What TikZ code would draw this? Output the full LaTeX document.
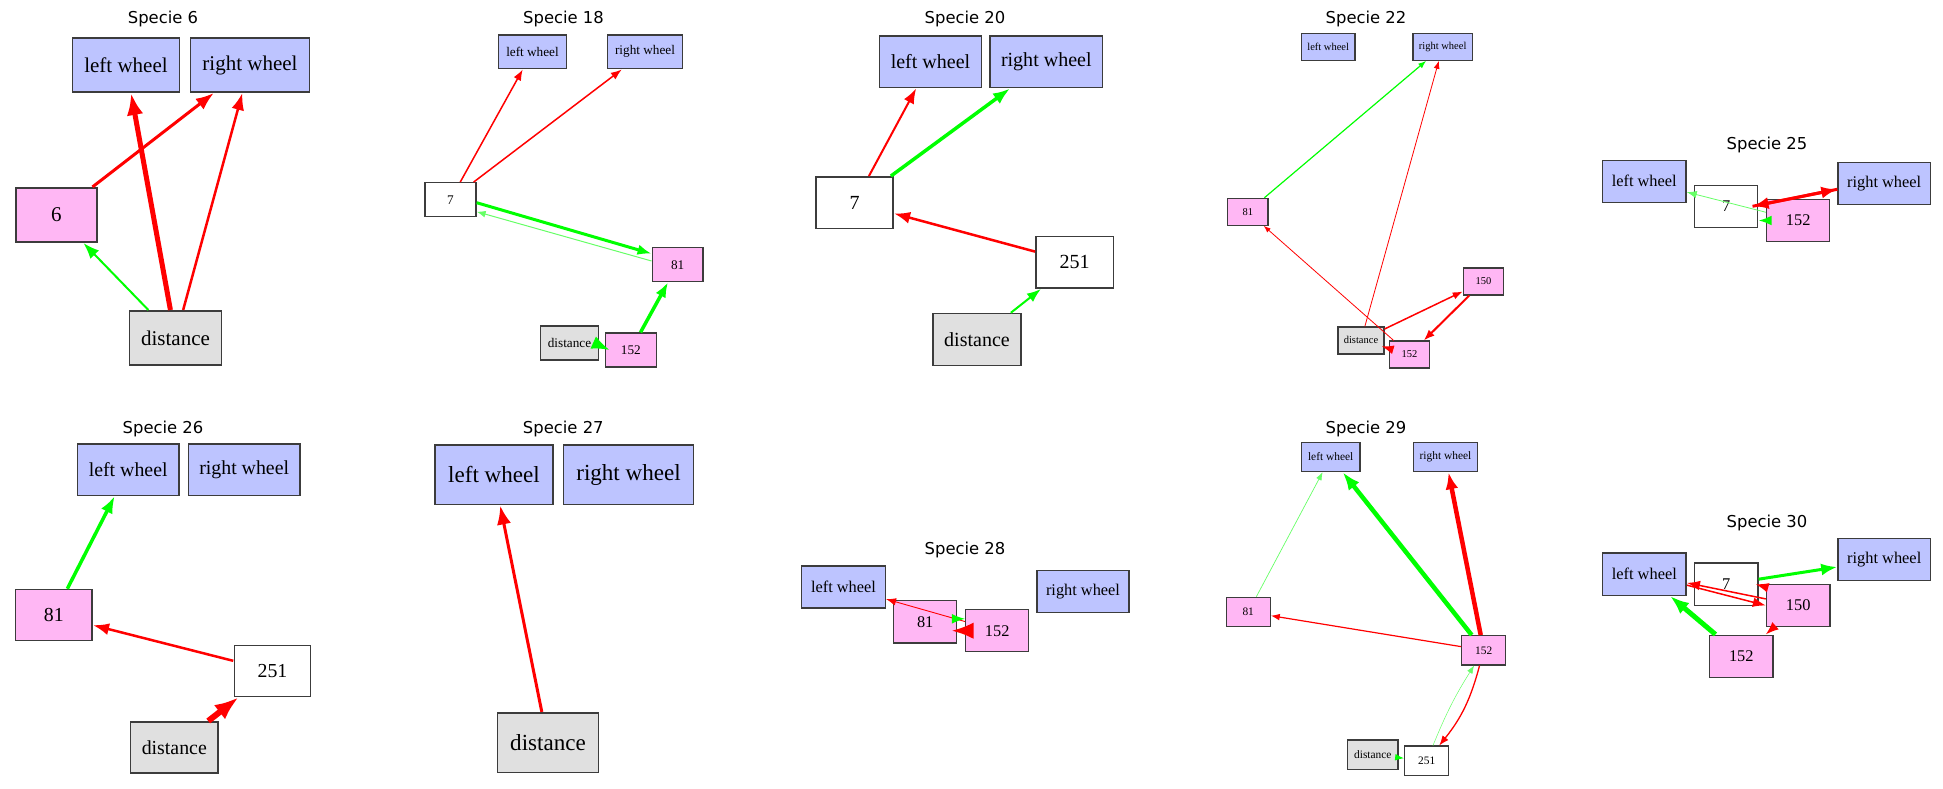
\documentclass[tikz,border=0pt]{standalone}
\usepackage{fontspec}
\setmainfont{Liberation Serif}
\newfontfamily\titlefont{DejaVu Sans}
\usetikzlibrary{arrows.meta}

\definecolor{wheelblue}{RGB}{189,196,255}
\definecolor{hidpink}{RGB}{255,183,244}
\definecolor{sensgray}{RGB}{224,224,224}
\definecolor{boxline}{RGB}{60,60,60}

\tikzstyle{box}=[draw=boxline, line width=1.4pt, rectangle, minimum height=36pt, inner sep=0pt, font=\fontsize{14}{16}\selectfont]
\tikzstyle{lwheel}=[box, fill=wheelblue, minimum width=71.5pt]
\tikzstyle{rwheel}=[box, fill=wheelblue, minimum width=79pt]
\tikzstyle{sensor}=[box, fill=sensgray, minimum width=61.5pt]
\tikzstyle{hidden}=[box, fill=hidpink, minimum width=54pt]
\tikzstyle{plain}=[box, fill=white, minimum width=54pt]
\tikzstyle{title}=[font=\titlefont\fontsize{16.4}{18}\selectfont, anchor=base]
\tikzstyle{exc}=[green]
\tikzstyle{pale}=[green!60]
\tikzstyle{inh}=[red]
\tikzset{ar/.style 2 args={line width=#1pt, -{Latex[length=#2pt]}}}

\begin{document}
\begin{tikzpicture}[x=1pt, y=-1pt]
  \useasboundingbox (0,0) rectangle (1943,789);

  \foreach \x/\y/\n in {163/24/6, 563.5/24/18, 965/24/20, 1366/24/22, 1767/149.3/25,
      163/433.3/26, 563.3/433.3/27, 965/554/28, 1366/433.3/29, 1767/527.3/30}
    \node[title] (t\n) at (\x,\y) {Specie \n};

  % Specie 6
  \begin{scope}[every node/.append style={scale=1.5}]
    \node[lwheel] (lw6) at (126,65) {left wheel};
    \node[rwheel] (rw6) at (250,65) {right wheel};
    \node[hidden] (n6x6) at (56.3,215) {6};
    \node[sensor] (d6) at (175.5,338) {distance};
  \end{scope}
  \draw[inh, ar={5}{22}] (d6) -- (lw6);
  \draw[inh, ar={2.5}{17}] (d6) -- (rw6);
  \draw[inh, ar={3}{18}] (n6x6) -- (rw6);
  \draw[exc, ar={2}{16}] (d6) -- (n6x6);

  % Specie 18
  \begin{scope}[every node/.append style={scale=0.944}]
    \node[lwheel] (lw18) at (532.5,51.8) {left wheel};
    \node[rwheel] (rw18) at (645,51.8) {right wheel};
    \node[plain] (n18x7) at (450.5,199.7) {7};
    \node[hidden] (n18x81) at (677.7,264.7) {81};
    \node[sensor] (d18) at (569.5,343) {distance};
    \node[hidden] (n18x152) at (630.8,350) {152};
  \end{scope}
  \draw[inh, ar={1.5}{11}] (n18x7) -- (lw18);
  \draw[inh, ar={1.5}{11}] (n18x7) -- (rw18);
  \draw[exc, ar={3}{14}] ([yshift=-3pt]n18x7.east) -- ([yshift=11pt]n18x81.west);
  \draw[pale, ar={1}{9}] ([yshift=3.7pt]n18x81.west) -- ([yshift=-12pt]n18x7.east);
  \draw[exc, ar={3.5}{15}] (n18x152) -- (n18x81);
  \draw[exc, ar={2.5}{18}] ([xshift=-5pt]d18.east) -- ([xshift=5pt]n18x152.west);

  % Specie 20
  \begin{scope}[every node/.append style={scale=1.43}]
    \node[lwheel] (lw20) at (930.5,61.8) {left wheel};
    \node[rwheel] (rw20) at (1046.3,61.8) {right wheel};
    \node[plain] (n20x7) at (854.5,202.8) {7};
    \node[plain] (n20x251) at (1074.7,262.3) {251};
    \node[sensor] (d20) at (977,339.5) {distance};
  \end{scope}
  \draw[inh, ar={2}{15}] (n20x7) -- (lw20);
  \draw[exc, ar={3.5}{17}] (n20x7) -- (rw20);
  \draw[inh, ar={2.5}{16}] (n20x251) -- (n20x7);
  \draw[exc, ar={2}{14}] (d20) -- (n20x251);

  % Specie 22
  \begin{scope}[every node/.append style={scale=0.75}]
    \node[lwheel] (lw22) at (1328.2,46.8) {left wheel};
    \node[rwheel] (rw22) at (1442.7,46.8) {right wheel};
    \node[hidden] (n22x81) at (1247.8,211.8) {81};
    \node[hidden] (n22x150) at (1483.5,281.5) {150};
    \node[sensor] (d22) at (1361,340.3) {distance};
    \node[hidden] (n22x152) at (1409.5,354.5) {152};
  \end{scope}
  \draw[exc, ar={1.2}{8}] (n22x81) -- (rw22);
  \draw[inh, ar={0.8}{8}] (d22) -- (rw22);
  \draw[inh, ar={0.8}{7}] (n22x152) -- (n22x81);
  \draw[inh, ar={1.5}{10}] (d22) -- (n22x150);
  \draw[inh, ar={2}{11}] (n22x150) -- (n22x152);
  \draw[inh, ar={1.5}{12}, shorten >=-3pt] (n22x152) -- (d22);

  % Specie 25
  \begin{scope}[every node/.append style={scale=1.167}]
    \node[lwheel] (lw25) at (1644.2,181.3) {left wheel};
    \node[plain] (n25x7) at (1726.2,206.3) {7};
    \node[hidden] (n25x152) at (1798.2,220.5) {152};
    \node[rwheel] (rw25) at (1884.2,183.3) {right wheel};
  \end{scope}
  \draw[pale, ar={0.8}{10}] (n25x152) -- (lw25);
  \draw[exc, ar={2}{13}] (n25x152.west) -- (n25x152.west -| n25x7.east);
  \draw[inh, ar={3}{16}] ([xshift=-6pt]n25x7.east) -- ([yshift=-6pt]rw25.west);
  \draw[inh, ar={3}{16}] ([yshift=-6pt]rw25.west) -- ([xshift=-6pt]n25x7.east);

  % Specie 26
  \begin{scope}[every node/.append style={scale=1.417}]
    \node[lwheel] (lw26) at (128.2,469.7) {left wheel};
    \node[rwheel] (rw26) at (244.2,469.7) {right wheel};
    \node[hidden] (n26x81) at (53.8,615.2) {81};
    \node[plain] (n26x251) at (272.5,670.8) {251};
    \node[sensor] (d26) at (174.3,747.5) {distance};
  \end{scope}
  \draw[exc, ar={3.5}{17}] (n26x81) -- (lw26);
  \draw[inh, ar={2.5}{16}] (n26x251) -- (n26x81);
  \draw[inh, ar={6}{24}] (d26) -- (n26x251);

  % Specie 27
  \begin{scope}[every node/.append style={scale=1.647}]
    \node[lwheel] (lw27) at (494,474.7) {left wheel};
    \node[rwheel] (rw27) at (628.5,474.7) {right wheel};
    \node[sensor] (d27) at (548,742.7) {distance};
  \end{scope}
  \draw[inh, ar={3}{19}] (d27) -- (lw27);

  % Specie 28
  \begin{scope}[every node/.append style={scale=1.167}]
    \node[lwheel] (lw28) at (843.5,587) {left wheel};
    \node[hidden] (n28x81) at (925.2,621.8) {81};
    \node[hidden] (n28x152) at (997.2,630.7) {152};
    \node[rwheel] (rw28) at (1083,591.7) {right wheel};
  \end{scope}
  \draw[inh, ar={0.9}{10}] (n28x152) -- (lw28);
  \draw[exc, ar={1.2}{13}] ([yshift=3pt]n28x81.east) -- ([yshift=3pt]n28x81.east -| n28x152.west);
  \draw[inh, ar={3}{22}] (n28x152.west) -- ([xshift=-6pt]n28x152.west -| n28x81.east);

  % Specie 29
  \begin{scope}[every node/.append style={scale=0.815}]
    \node[lwheel] (lw29) at (1330.7,457) {left wheel};
    \node[rwheel] (rw29) at (1445.5,457) {right wheel};
    \node[hidden] (n29x81) at (1248.2,612) {81};
    \node[hidden] (n29x152) at (1483.7,650.3) {152};
    \node[sensor] (d29) at (1372.8,754.7) {distance};
    \node[plain] (n29x251) at (1426.7,760.8) {251};
  \end{scope}
  \draw[pale, ar={0.7}{8}] (n29x81) -- (lw29);
  \draw[exc, ar={4.5}{18}] (n29x152) -- (lw29);
  \draw[inh, ar={4.5}{17}] (n29x152) -- (rw29);
  \draw[inh, ar={1.2}{9}] (n29x152) -- (n29x81);
  \draw[pale, ar={0.5}{8}] (n29x251) to[bend left=5] (n29x152);
  \draw[inh, ar={1.3}{10}] (n29x152) to[bend left=12] (n29x251);
  \draw[exc, ar={1.2}{9}] (d29) -- (n29x251);

  % Specie 30
  \begin{scope}[every node/.append style={scale=1.17}]
    \node[lwheel] (lw30) at (1644.3,574.2) {left wheel};
    \node[plain] (n30x7) at (1726.2,584.2) {7};
    \node[rwheel] (rw30) at (1884.2,559.7) {right wheel};
    \node[hidden] (n30x150) at (1798.2,605.5) {150};
    \node[hidden] (n30x152) at (1741.3,656.3) {152};
  \end{scope}
  \draw[exc, ar={3}{16}] (n30x7) -- (rw30);
  \draw[inh, ar={1.5}{13}] ([xshift=2pt,yshift=-4pt]n30x150.north west) -- ([xshift=-3pt]n30x7.east);
  \draw[inh, ar={1.5}{13}] (n30x150) -- (lw30);
  \draw[inh, ar={1.5}{13}] (lw30) -- (n30x150.west);
  \draw[inh, ar={1.5}{13}] (n30x150) -- (n30x152);
  \draw[exc, ar={5}{19}] (n30x152) -- (lw30);
\end{tikzpicture}
\end{document}
